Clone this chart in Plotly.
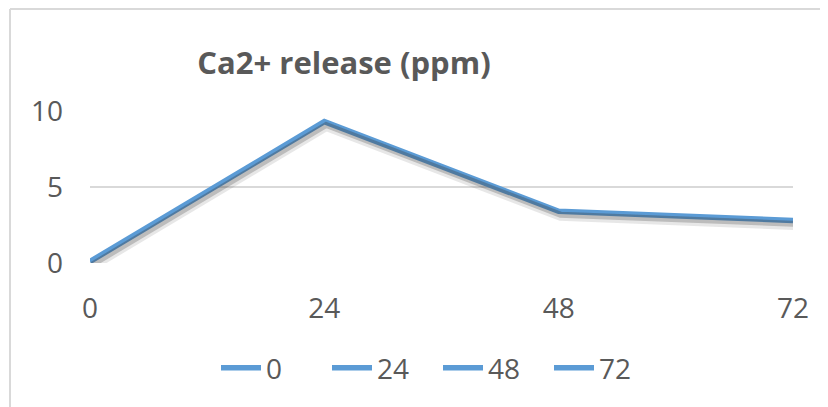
import plotly.graph_objects as go

# ---- data ----
hours = ["0", "24", "48", "72"]
ca_release = [0.1, 9.3, 3.4, 2.8]
legend_names = ["0", "24", "48", "72"]
y_ticks = [0, 5, 10]

BLUE = "#5B9BD5"
TEXT = "#595959"
GRID = "#D9D9D9"
FONT = "Open Sans"

# the page adds an 8px body margin, so the figure is drawn at (8, 8)
OFF = 8
W, H = 828 - OFF, 407 - OFF
L, T = 90 - OFF, 111 - OFF
R = W - (793 - OFF)
B = H - (263 - OFF)
plot_w = W - L - R
plot_h = H - T - B

fig = go.Figure()

# soft shadow (same data, drawn on slightly offset overlay axes)
for i, (alpha, wd) in enumerate([(0.12, 9), (0.25, 6)]):
    fig.add_trace(go.Scatter(
        x=hours, y=ca_release, mode="lines",
        line=dict(color=f"rgba(60,60,60,{alpha})", width=wd),
        xaxis="x2", yaxis="y2" if i == 0 else "y3",
        showlegend=False, hoverinfo="skip"))

# main line + legend entries
fig.add_trace(go.Scatter(x=hours, y=ca_release, mode="lines", name=legend_names[0],
                         line=dict(color=BLUE, width=5.5)))
for nm in legend_names[1:]:
    fig.add_trace(go.Scatter(x=hours, y=[None] * len(hours), mode="lines", name=nm,
                             line=dict(color=BLUE, width=5.5)))

axis_font = dict(family=FONT, size=28, color=TEXT)
fig.update_layout(
    width=W, height=H,
    margin=dict(l=L, r=R, t=T, b=B, pad=0),
    paper_bgcolor="white", plot_bgcolor="white",
    font=dict(family=FONT, color=TEXT),
    title=dict(text="<b>Ca2+ release (ppm)</b>", x=(344 - OFF) / W, xanchor="center",
               y=1 - (63 - OFF) / H, yanchor="middle",
               font=dict(family=FONT, size=31, color=TEXT)),
    xaxis=dict(type="category", range=[0, 3], showgrid=False, zeroline=False,
               showline=False, ticks="", tickfont=axis_font, ticklabelstandoff=26),
    yaxis=dict(range=[0, 10], tickvals=y_ticks, showgrid=True, gridcolor=GRID,
               gridwidth=1.5, zeroline=False, showline=False, ticks="",
               tickfont=axis_font, ticklabelstandoff=26),
    xaxis2=dict(type="category", range=[-0.008, 2.992], overlaying="x",
                visible=False),
    yaxis2=dict(range=[0.33, 10.33], overlaying="y", visible=False),
    yaxis3=dict(range=[0.22, 10.22], overlaying="y", visible=False),
    legend=dict(orientation="h", x=(438 - 90) / plot_w, xanchor="center",
                y=-(368 - 263) / plot_h, yanchor="middle",
                font=dict(family=FONT, size=28, color=TEXT),
                entrywidth=56, entrywidthmode="pixels", itemwidth=40,
                bgcolor="rgba(0,0,0,0)"),
    showlegend=True,
    shapes=[
        dict(type="line", xref="paper", yref="paper",
             x0=(2 - L) / plot_w, x1=(W - L) / plot_w,
             y0=(T + plot_h - 1) / plot_h, y1=(T + plot_h - 1) / plot_h,
             line=dict(color=GRID, width=2)),
        dict(type="line", xref="paper", yref="paper",
             x0=(2 - L) / plot_w, x1=(2 - L) / plot_w,
             y0=(T + plot_h - 1) / plot_h, y1=(T + plot_h - H) / plot_h,
             line=dict(color=GRID, width=2)),
    ],
)

fig.write_html("out.html")
